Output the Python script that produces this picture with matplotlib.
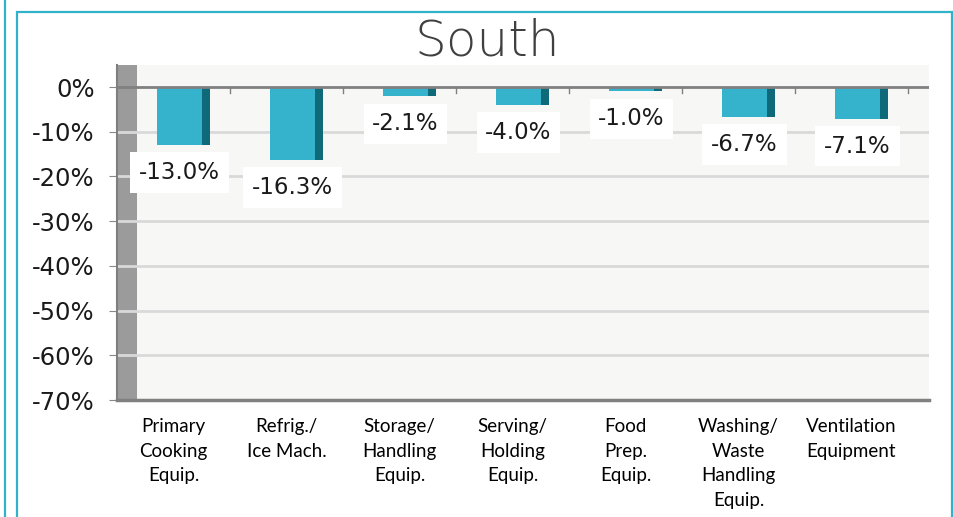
import numpy as np
import matplotlib.pyplot as plt
from matplotlib.patches import Rectangle
from matplotlib.lines import Line2D

categories = ["Primary\nCooking\nEquip.", "Refrig./\nIce Mach.", "Storage/\nHandling\nEquip.",
              "Serving/\nHolding\nEquip.", "Food\nPrep.\nEquip.", "Washing/\nWaste\nHandling\nEquip.",
              "Ventilation\nEquipment"]
values = [-13.0, -16.3, -2.1, -4.0, -1.0, -6.7, -7.1]
yticks = [0, -10, -20, -30, -40, -50, -60, -70]

teal = "#2FB2CA"
front = "#35B3CD"
side = "#0E6A78"

W, H = 954, 517
fig = plt.figure(figsize=(W / 100, H / 100), dpi=100)

# panel borders
fig.add_artist(Line2D([5 / W, 5 / W], [0, 1], color=teal, lw=1.6))
fig.add_artist(Rectangle((17 / W, -0.1), (952 - 17) / W, 1.1 - 12 / H, transform=fig.transFigure,
                         fill=False, edgecolor=teal, lw=1.6))

ax = fig.add_axes([117 / W, 117 / H, (929 - 117) / W, (400 - 65) / H])
x = np.arange(len(values))
ax.set_xlim(-0.5, -0.5 + (929 - 117) / 113)
ax.set_ylim(-70, 22 / 44.7 * 10)
ax.set_facecolor("#F7F7F5")

# side wall
ax.axvspan(-0.5, -0.5 + 20 / 113, color="#9B9B9B", zorder=1, lw=0)

for t in yticks[1:]:
    ax.axhline(t, color="#D9D9D9", lw=2, zorder=2)
ax.axhline(0, color="#808080", lw=2, zorder=4)
for b in x + 0.5:
    ax.plot([b, b], [0, -1.3], color="#808080", lw=1, zorder=4)

ax.bar(x + 0.053, values, width=0.398, color=front, zorder=3)
ax.bar(x + 0.288, values, width=0.071, color=side, zorder=3)

for xi, v in zip(x, values):
    ax.annotate(f"{v:.1f}%", (xi + 0.053, v), xytext=(0, -11.5), textcoords="offset points",
                ha="center", va="top", fontsize=16.5, color="#1a1a1a", zorder=6,
                bbox=dict(boxstyle="square,pad=0.38", fc="white", ec="none"))

ax.set_yticks(yticks)
ax.set_yticklabels([f"{t}%" for t in yticks], fontsize=17.5, color="#1a1a1a")
ax.tick_params(axis="y", length=6, color="#888888", pad=10)
ax.set_xticks(x)
ax.set_xticklabels(categories, fontsize=13.5, family="Lato", linespacing=1.55)
ax.tick_params(axis="x", length=0, pad=13)

for s in ["top", "right"]:
    ax.spines[s].set_visible(False)
ax.spines["left"].set_color("#7F7F7F")
ax.spines["left"].set_linewidth(1.5)
ax.spines["bottom"].set_color("#808080")
ax.spines["bottom"].set_linewidth(2.5)

fig.text(487 / W, 1 - 42 / H, "South", ha="center", va="center", fontsize=36,
         fontweight="light", color="#404040")

fig.savefig("out.png", dpi=100)
